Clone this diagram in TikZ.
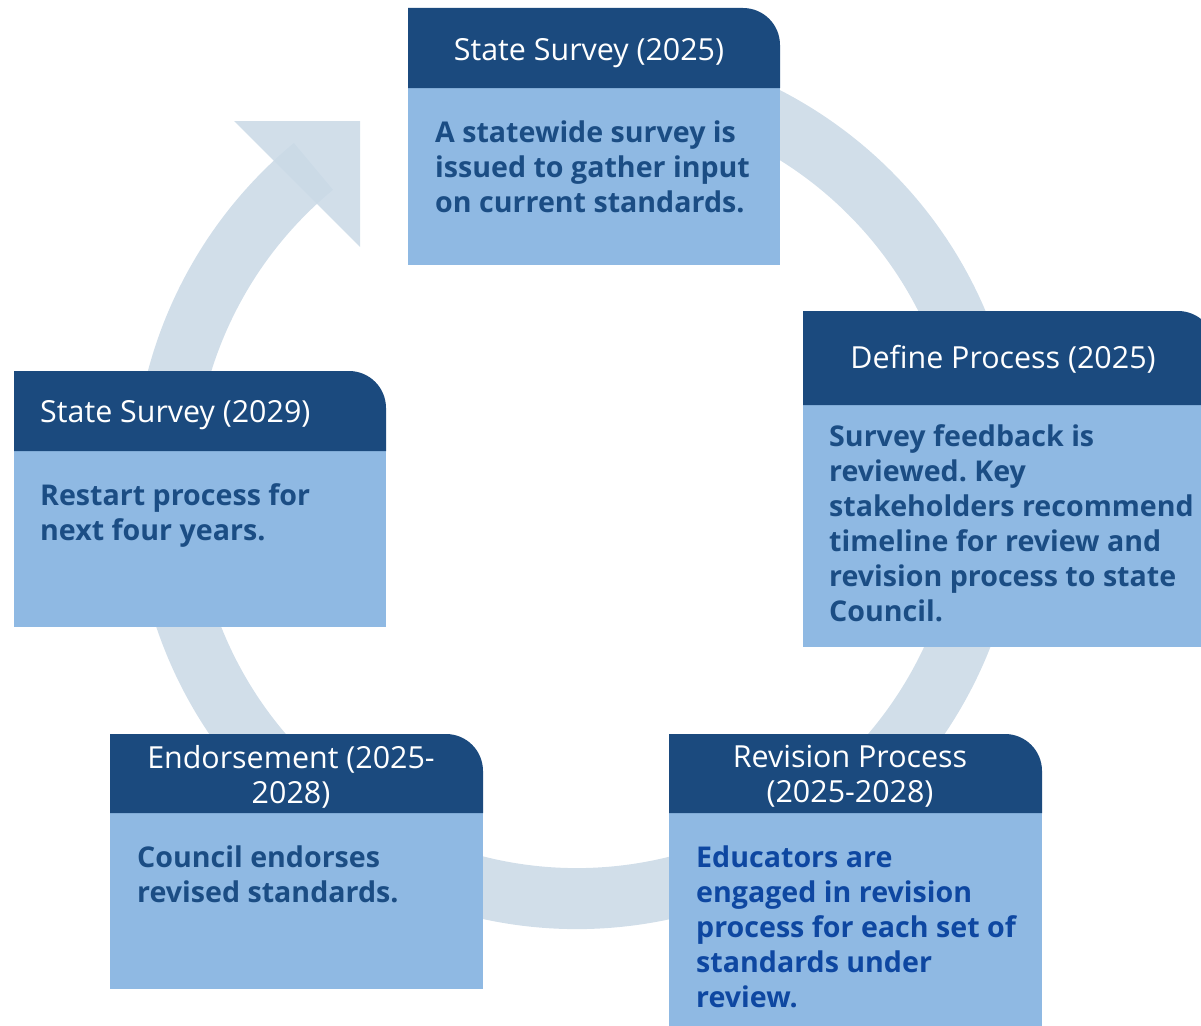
\documentclass[tikz,border=0pt]{standalone}
\usepackage{fontspec}
\setmainfont{Open Sans}
\frenchspacing
\definecolor{headblue}{RGB}{27,74,126}
\definecolor{boxblue}{RGB}{143,185,227}
\definecolor{ringblue}{RGB}{202,217,230}
\definecolor{textblue}{RGB}{27,77,132}
\definecolor{brightblue}{RGB}{14,71,161}

\begin{document}
\begin{tikzpicture}[x=1pt,y=-1pt,
    head/.style={text=white, font=\fontsize{30.4}{35}\selectfont, inner sep=0pt, align=center},
    body/.style={text=textblue, font=\fontsize{28.6}{35}\selectfont\bfseries, inner sep=0pt, align=left, anchor=base west},
    ring/.style={draw=ringblue, draw opacity=0.87, line width=61pt}]

    \useasboundingbox (0,0) rectangle (1201,1025);

    % the cycle arrow
    \coordinate (c) at (577,485);
    \draw[ring] (c) ++(-105:413.5) arc[start angle=-105, end angle=230.4, radius=413.5];
    \fill[ringblue, fill opacity=0.87] (234,121) -- (360,121) -- (360,247) -- cycle;

    % boxes
    \fill[boxblue] (408,88) rectangle (780,265);
    \fill[headblue] (408,88) -- (408,8) -- (743,8) arc[start angle=-90, end angle=0, radius=37] -- (780,88) -- cycle;
    \fill[boxblue] (803,405) rectangle (1215,647);
    \fill[headblue] (803,405) -- (803,311) -- (1178,311) arc[start angle=-90, end angle=0, radius=37] -- (1215,405) -- cycle;
    \fill[boxblue] (14,451) rectangle (386,627);
    \fill[headblue] (14,451) -- (14,371) -- (349,371) arc[start angle=-90, end angle=0, radius=37] -- (386,451) -- cycle;
    \fill[boxblue] (110,813) rectangle (483,989);
    \fill[headblue] (110,813) -- (110,734) -- (446,734) arc[start angle=-90, end angle=0, radius=37] -- (483,813) -- cycle;
    \fill[boxblue] (669,813) rectangle (1042,1030);
    \fill[headblue] (669,813) -- (669,734) -- (1005,734) arc[start angle=-90, end angle=0, radius=37] -- (1042,813) -- cycle;

    % texts (base = last line)
    \node[head, anchor=base] (t1) at (589,60) {State Survey (2025)};
    \node[body] (d1) at (435,212) {A statewide survey is\\issued to gather input\\on current standards.};
    \node[head, anchor=base] (t2) at (1003,368) {Define Process (2025)};
    \node[body] (d2) at (829,621) {Survey feedback is\\reviewed. Key\\stakeholders recommend\\timeline for review and\\revision process to state\\Council.};
    \node[head, anchor=base west] (t3) at (40,422) {State Survey (2029)};
    \node[body] (d3) at (40,540) {Restart process for\\next four years.};
    \node[head, anchor=base] (t4) at (291,803) {Endorsement (2025-\\2028)};
    \node[body] (d4) at (137,902) {Council endorses\\revised standards.};
    \node[head, anchor=base] (t5) at (850,802) {Revision Process\\(2025-2028)};
    \node[body, text=brightblue] (d5) at (696,1007) {Educators are\\engaged in revision\\process for each set of\\standards under\\review.};

\end{tikzpicture}
\end{document}
